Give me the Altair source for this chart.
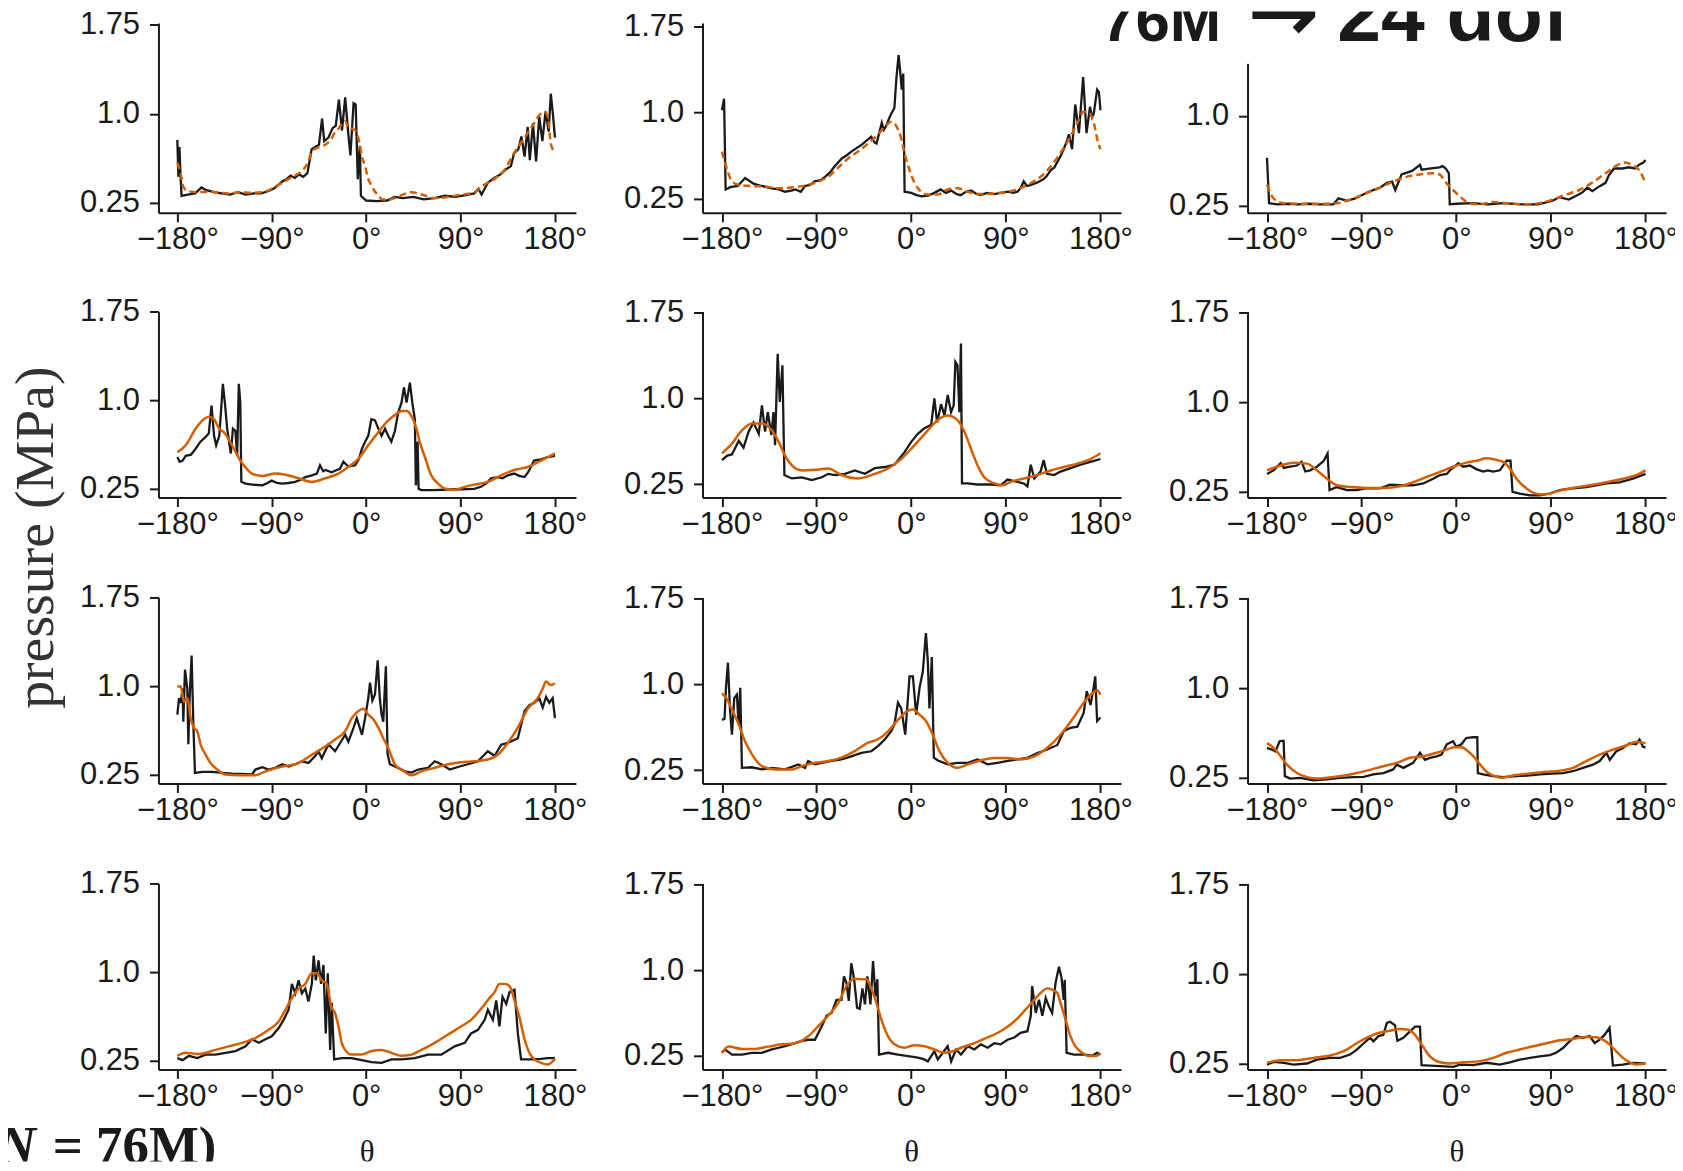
import altair as alt
import pandas as pd

# ---------------- data: (theta in degrees, pressure in MPa) ----------------
# row 1 (panels a-c); black = reference, orange = reduced model
r1c1_ref = [(-180,0.78),(-179,0.47),(-178,0.72),(-177,0.49),(-176,0.31),(-170,0.32),(-163,0.33),(-157,0.38),(-153,0.36),(-145,0.34),(-138,0.33),(-130,0.32),(-122,0.34),(-115,0.32),(-107,0.33),(-100,0.33),(-93,0.35),(-88,0.37),(-84,0.40),(-80,0.43),(-76,0.45),(-72,0.48),(-68,0.46),(-64,0.49),(-60,0.47),(-56,0.50),(-52,0.70),(-49,0.72),(-45,0.74),(-42,0.96),(-40,0.77),(-36,0.80),(-32,0.88),(-29,0.90),(-26,1.12),(-23,0.86),(-20,1.14),(-17,0.83),(-15,0.65),(-12,1.09),(-10,1.08),(-8,0.45),(-6,0.73),(-5,0.31),(0,0.27),(10,0.265),(20,0.27),(27,0.30),(35,0.29),(45,0.30),(55,0.28),(65,0.29),(75,0.31),(85,0.30),(95,0.315),(103,0.33),(107,0.37),(110,0.32),(116,0.42),(122,0.46),(128,0.49),(133,0.53),(138,0.56),(141,0.67),(145,0.70),(148,0.81),(151,0.64),(154,0.89),(156,0.61),(159,0.92),(162,0.60),(165,0.98),(168,0.77),(171,1.02),(174,0.85),(176,1.17),(178,1.00),(180,0.80)]
r1c1_rom = [(-180,0.59),(-177,0.50),(-174,0.38),(-170,0.35),(-162,0.34),(-150,0.345),(-140,0.335),(-130,0.33),(-120,0.34),(-110,0.335),(-100,0.34),(-92,0.36),(-86,0.39),(-80,0.42),(-74,0.45),(-68,0.48),(-61,0.52),(-55,0.60),(-52,0.68),(-45,0.72),(-39,0.74),(-34,0.78),(-30,0.84),(-26,0.88),(-23,0.92),(-20,0.94),(-17,0.88),(-12,0.87),(-9,0.84),(-6,0.74),(-4,0.64),(-1,0.56),(2,0.45),(5,0.40),(8,0.35),(12,0.31),(15,0.28),(21,0.275),(27,0.29),(35,0.32),(43,0.34),(53,0.32),(65,0.29),(78,0.30),(91,0.32),(103,0.335),(110,0.39),(116,0.42),(122,0.45),(132,0.53),(141,0.67),(151,0.80),(160,0.92),(165,0.99),(170,1.02),(173,0.98),(176,0.75),(178,0.70),(180,0.68)]
r1c2_ref = [(-180,1.02),(-178,1.12),(-176.5,0.33),(-172,0.35),(-165,0.36),(-158,0.43),(-150,0.38),(-142,0.36),(-133,0.34),(-126,0.33),(-120,0.31),(-114,0.32),(-110,0.33),(-105,0.31),(-101,0.36),(-96,0.37),(-92,0.40),(-86,0.41),(-82,0.44),(-77,0.48),(-73,0.53),(-66,0.60),(-61,0.63),(-57,0.66),(-52,0.69),(-47,0.72),(-42,0.76),(-38,0.79),(-35,0.74),(-33,0.73),(-28,0.91),(-26,0.85),(-24,0.88),(-21,0.95),(-19,0.99),(-16,1.04),(-14,1.31),(-12,1.50),(-10,1.31),(-9,1.20),(-7.6,1.34),(-6.3,0.31),(0,0.30),(5,0.28),(10,0.27),(16,0.275),(22,0.30),(28,0.33),(33,0.30),(38,0.32),(43,0.29),(47,0.28),(52,0.31),(57,0.32),(62,0.29),(66,0.28),(72,0.30),(79,0.29),(85,0.30),(92,0.31),(97,0.30),(101,0.31),(104,0.34),(107,0.40),(110,0.36),(114,0.37),(120,0.39),(126,0.42),(129,0.45),(133,0.50),(136,0.52),(139,0.57),(142,0.62),(145,0.68),(148,0.75),(150,0.81),(153,0.68),(156,1.07),(159.5,0.82),(163.5,1.31),(166.7,0.82),(170,1.05),(172,0.96),(173.6,0.99),(176.8,1.20),(178.5,1.18),(180,1.02)]
r1c2_rom = [(-180,0.66),(-175,0.50),(-170.5,0.40),(-164,0.37),(-152,0.36),(-139,0.355),(-126,0.34),(-110,0.35),(-98,0.37),(-88,0.40),(-79,0.44),(-69.5,0.52),(-60,0.60),(-50.5,0.66),(-41,0.73),(-31.6,0.81),(-23.7,0.89),(-19,0.92),(-14,0.88),(-10,0.79),(-5.7,0.62),(-1.6,0.50),(3,0.39),(9.5,0.31),(15.8,0.285),(25,0.285),(34.7,0.33),(44,0.34),(53.6,0.31),(66,0.29),(79,0.295),(91.6,0.31),(101,0.33),(110.5,0.37),(123,0.44),(132.6,0.53),(142,0.65),(151.5,0.79),(158,0.91),(164,1.01),(169,1.0),(173.6,0.91),(178,0.73),(180,0.68)]
r1c3_ref = [(-180,0.65),(-178,0.27),(-170,0.26),(-160,0.265),(-150,0.26),(-140,0.265),(-130,0.26),(-117,0.26),(-112,0.31),(-104,0.29),(-96,0.31),(-91.6,0.33),(-82,0.37),(-72.5,0.40),(-66,0.44),(-61,0.45),(-58,0.38),(-52,0.51),(-42,0.54),(-34.5,0.59),(-33,0.55),(-24,0.56),(-16,0.57),(-13,0.58),(-10,0.56),(-7,0.52),(-6.2,0.26),(0,0.265),(15,0.27),(30,0.26),(45,0.27),(62,0.26),(78,0.26),(91.6,0.29),(98,0.32),(107,0.30),(113.7,0.33),(120,0.36),(124.7,0.40),(129.4,0.37),(136,0.41),(142,0.44),(145,0.50),(150,0.56),(158,0.56),(164,0.57),(170,0.56),(173.6,0.59),(178,0.61),(180,0.63)]
r1c3_rom = [(-180,0.425),(-173.7,0.31),(-164,0.27),(-142,0.265),(-117,0.265),(-101,0.30),(-85,0.355),(-72.6,0.40),(-60,0.45),(-47.4,0.49),(-34.7,0.51),(-22,0.52),(-15.8,0.51),(-9.5,0.44),(-3,0.38),(3,0.33),(12.6,0.27),(22,0.26),(34.7,0.28),(47,0.27),(66,0.26),(79,0.27),(91.6,0.30),(104,0.34),(117,0.38),(129,0.44),(142,0.52),(151.5,0.58),(161,0.61),(167,0.59),(173.6,0.55),(180,0.44)]

# row 2
r2c1_ref = [(-180,0.52),(-177.8,0.48),(-175,0.49),(-172,0.53),(-167,0.54),(-162.6,0.59),(-158,0.65),(-153,0.69),(-150,0.72),(-147.4,0.955),(-145,0.70),(-143,0.62),(-140,0.70),(-138,0.955),(-136.6,1.14),(-134.7,0.98),(-132.5,0.76),(-129,0.55),(-127,0.76),(-124.6,0.74),(-123,0.53),(-121.4,1.14),(-120,0.98),(-119,0.31),(-115,0.295),(-107,0.285),(-99,0.28),(-94,0.30),(-90,0.32),(-85,0.30),(-80,0.295),(-74,0.30),(-67.6,0.31),(-62,0.33),(-58,0.35),(-51.8,0.365),(-47,0.38),(-44,0.45),(-41,0.40),(-39,0.41),(-32.8,0.39),(-28,0.41),(-25,0.42),(-21.7,0.48),(-17,0.44),(-10.6,0.45),(-7,0.50),(-4,0.59),(-1,0.65),(2,0.70),(5,0.84),(8.4,0.83),(11.6,0.76),(14.7,0.70),(18,0.76),(21,0.70),(24,0.65),(27.4,0.74),(30.6,0.90),(33.7,0.98),(36,1.11),(38.5,0.98),(41.7,1.15),(44,0.98),(46.4,0.84),(47.4,0.28),(49,0.65),(50,0.25),(52.7,0.24),(65,0.24),(78,0.245),(90.7,0.247),(103,0.25),(110,0.27),(115,0.30),(119,0.34),(125.6,0.35),(130,0.34),(135,0.365),(141,0.38),(146,0.36),(151,0.35),(155,0.40),(160,0.49),(166.7,0.50),(173,0.52),(180,0.53)]
r2c1_rom = [(-180,0.56),(-172,0.62),(-162.6,0.76),(-154.7,0.84),(-150,0.86),(-145,0.84),(-140,0.76),(-135.7,0.73),(-131,0.67),(-126,0.59),(-121,0.505),(-116.7,0.45),(-108.8,0.38),(-99,0.36),(-86.6,0.38),(-77,0.37),(-64.4,0.34),(-51.8,0.31),(-39,0.34),(-26.4,0.38),(-17,0.435),(-7.4,0.505),(2,0.62),(11.6,0.73),(21,0.83),(29,0.885),(33.7,0.91),(38.5,0.91),(43,0.87),(47.9,0.76),(51,0.65),(56,0.52),(62,0.365),(68.6,0.295),(75,0.253),(84,0.24),(94,0.267),(103,0.286),(116,0.31),(128.7,0.365),(141,0.41),(154,0.435),(166.7,0.49),(180,0.55)]
r2c2_ref = [(-180,0.46),(-175,0.50),(-170.5,0.51),(-164,0.63),(-159.5,0.57),(-154.7,0.71),(-150,0.79),(-145,0.69),(-142,0.94),(-139,0.71),(-136.4,0.88),(-133,0.68),(-131,0.88),(-129.5,0.59),(-127,1.39),(-125,0.97),(-122.5,1.29),(-120.6,0.33),(-113.7,0.30),(-104,0.31),(-94.7,0.285),(-85,0.31),(-79,0.34),(-72.6,0.33),(-63,0.34),(-53.7,0.37),(-44,0.34),(-34.7,0.39),(-25,0.40),(-16,0.42),(-6.3,0.53),(0,0.62),(6.3,0.69),(12.6,0.74),(19,0.77),(22,1.0),(24.6,0.79),(28.4,0.95),(31.6,0.85),(34.7,1.03),(37.9,0.88),(40.4,0.94),(42,1.32),(44,1.29),(45.8,0.88),(47.3,1.48),(48.3,0.256),(53.6,0.256),(63,0.247),(75.8,0.247),(85,0.24),(91.6,0.29),(101,0.27),(107,0.256),(110.5,0.23),(113.7,0.42),(117,0.30),(123,0.36),(126,0.46),(129,0.34),(135.8,0.33),(142,0.36),(151.5,0.39),(161,0.42),(170.5,0.445),(180,0.47)]
r2c2_rom = [(-180,0.52),(-170.5,0.605),(-161,0.72),(-151.6,0.78),(-142,0.78),(-132.6,0.72),(-126,0.62),(-120,0.50),(-113.7,0.416),(-104,0.37),(-91.6,0.375),(-79,0.387),(-66.3,0.33),(-50.5,0.30),(-34.7,0.34),(-22,0.387),(-9.5,0.47),(3,0.59),(15.8,0.72),(25,0.81),(34.7,0.85),(44,0.81),(50.5,0.71),(56.8,0.56),(63,0.416),(69.5,0.31),(79,0.256),(87,0.24),(94.7,0.27),(107,0.30),(120,0.33),(132.6,0.37),(145,0.40),(158,0.43),(170.5,0.47),(180,0.52)]
r2c3_ref = [(-180,0.40),(-173.7,0.43),(-167,0.49),(-164,0.45),(-158,0.46),(-151.5,0.47),(-147,0.50),(-143.6,0.42),(-139,0.43),(-132.5,0.46),(-126,0.51),(-122.4,0.57),(-120.5,0.264),(-113.6,0.29),(-104,0.264),(-94.6,0.264),(-85,0.28),(-72.4,0.28),(-63,0.31),(-53.5,0.305),(-41,0.305),(-31.3,0.32),(-22,0.36),(-15.5,0.39),(-9,0.40),(-6,0.43),(2,0.49),(6.6,0.46),(13,0.47),(19,0.44),(25.6,0.42),(30,0.43),(35,0.42),(41.4,0.43),(47.8,0.51),(51.6,0.51),(53.5,0.25),(60.4,0.236),(70,0.22),(79.4,0.22),(89,0.236),(98.4,0.264),(111,0.28),(123.7,0.29),(133,0.305),(142.7,0.32),(155.3,0.33),(168,0.36),(180,0.40)]
r2c3_rom = [(-180,0.43),(-167,0.47),(-154.7,0.494),(-142,0.486),(-132.5,0.43),(-123,0.36),(-113.6,0.305),(-101,0.29),(-85,0.283),(-69.3,0.283),(-53.5,0.297),(-41,0.33),(-28,0.375),(-15.5,0.417),(-2.8,0.46),(9.8,0.494),(19.3,0.51),(28.8,0.53),(36.7,0.52),(44.6,0.50),(51,0.444),(57.3,0.36),(66.8,0.278),(73,0.244),(81,0.228),(89,0.236),(98.4,0.26),(111,0.283),(127,0.305),(142.7,0.33),(158.5,0.36),(171,0.39),(180,0.43)]

# row 3
r3c1_ref = [(-180,0.76),(-178.4,0.90),(-176.8,0.86),(-175,0.98),(-174.3,0.70),(-172.7,1.14),(-170.5,0.98),(-169.5,0.51),(-168.3,0.90),(-166.4,1.26),(-164.8,0.70),(-163.2,0.267),(-156,0.275),(-146.8,0.275),(-137,0.267),(-127.7,0.26),(-118,0.258),(-108.8,0.253),(-105.6,0.295),(-99,0.315),(-93,0.295),(-86.6,0.31),(-80,0.34),(-74,0.32),(-67.6,0.34),(-61,0.365),(-55,0.35),(-48.6,0.41),(-45.4,0.45),(-42.3,0.39),(-36,0.51),(-29.6,0.45),(-24.8,0.52),(-20,0.59),(-17,0.53),(-12,0.65),(-9,0.73),(-4,0.59),(-1,0.73),(2,0.90),(3.7,1.03),(5.9,0.88),(8.4,0.93),(11,1.22),(13,0.90),(14.7,0.76),(16.3,0.70),(18.8,1.17),(20.4,0.43),(22.6,0.34),(29,0.315),(37,0.28),(43.2,0.27),(49.6,0.295),(59,0.31),(65.4,0.365),(71.7,0.34),(79.7,0.295),(90.7,0.325),(97,0.34),(106.6,0.365),(116,0.45),(122.4,0.41),(128.7,0.505),(135,0.52),(144.6,0.56),(151,0.79),(155.6,0.84),(160.4,0.86),(165,0.90),(168.3,0.82),(171.5,0.91),(174.6,0.86),(177.8,0.90),(180,0.73)]
r3c1_rom = [(-180,0.997),(-176.8,1.0),(-173.7,0.87),(-170.5,0.90),(-167.3,0.73),(-164.2,0.65),(-161,0.62),(-157.8,0.505),(-153,0.42),(-148.3,0.35),(-142,0.295),(-134,0.253),(-121.4,0.247),(-105.6,0.247),(-96,0.28),(-80,0.32),(-64.4,0.35),(-51.8,0.42),(-39,0.49),(-29.6,0.55),(-20,0.62),(-13.7,0.73),(-7.4,0.79),(-2.7,0.81),(2,0.76),(6.8,0.72),(11.6,0.65),(16.3,0.56),(21,0.48),(27.3,0.34),(33.7,0.295),(43.2,0.247),(52.7,0.28),(65.4,0.31),(78,0.34),(90.7,0.357),(103,0.365),(116,0.38),(125.6,0.42),(135,0.52),(144.6,0.65),(154,0.81),(163.6,0.90),(168.3,0.98),(171.5,1.04),(176.2,1.01),(180,1.025)]
r3c2_ref = [(-180,0.69),(-177.5,0.70),(-176.2,0.97),(-174.3,1.19),(-172.4,0.79),(-170.5,0.56),(-168.3,0.88),(-165.8,0.91),(-164.2,0.65),(-162.6,0.97),(-161,0.27),(-151.6,0.275),(-142,0.256),(-132.6,0.27),(-120,0.256),(-107.4,0.30),(-101,0.27),(-98,0.33),(-91.6,0.30),(-85,0.314),(-75.8,0.33),(-66.3,0.343),(-57,0.37),(-47.4,0.40),(-38,0.415),(-31.6,0.46),(-25,0.52),(-19,0.59),(-16,0.65),(-12.6,0.84),(-9.5,0.79),(-5.7,0.56),(-1.6,1.07),(1.6,1.07),(4.7,0.735),(7.9,0.97),(11,1.11),(14,1.45),(15.8,1.20),(17.3,0.79),(19.6,1.24),(21.5,0.36),(25.3,0.334),(34.7,0.30),(44,0.314),(53.7,0.314),(63,0.343),(72.6,0.30),(82,0.314),(91.6,0.33),(101,0.343),(110.5,0.357),(120,0.40),(129.4,0.43),(139,0.47),(145,0.59),(151.5,0.62),(158,0.63),(164,0.75),(167,0.94),(170.5,0.82),(173.6,0.98),(175,1.07),(176.8,0.68),(180,0.71)]
r3c2_rom = [(-180,0.92),(-175,0.87),(-170.5,0.78),(-164,0.65),(-158,0.50),(-151.6,0.39),(-142,0.285),(-129.5,0.256),(-113.7,0.256),(-104,0.285),(-91.6,0.314),(-79,0.33),(-66.3,0.36),(-53.7,0.416),(-41,0.49),(-31.6,0.52),(-22,0.59),(-12.6,0.69),(-4.7,0.76),(1.6,0.78),(7.9,0.735),(14,0.68),(20.5,0.56),(26.8,0.416),(34.7,0.314),(44,0.27),(53.7,0.30),(66,0.334),(79,0.357),(91.6,0.357),(104,0.343),(117,0.37),(129.4,0.445),(142,0.56),(154.5,0.71),(164,0.84),(172,0.92),(176.8,0.95),(180,0.91)]
r3c3_ref = [(-180,0.50),(-175.3,0.486),(-172,0.47),(-168,0.556),(-164.2,0.56),(-163,0.264),(-158,0.244),(-148.4,0.25),(-135.7,0.228),(-123,0.236),(-110.4,0.25),(-97.7,0.256),(-88,0.258),(-79,0.278),(-69.3,0.29),(-60,0.32),(-56.6,0.36),(-50.3,0.333),(-41,0.375),(-34.5,0.46),(-29.7,0.40),(-25,0.417),(-18.7,0.43),(-14,0.444),(-9,0.53),(-3,0.556),(0,0.51),(4.8,0.53),(9.5,0.583),(16,0.589),(20,0.589),(20.5,0.29),(25.6,0.278),(35,0.264),(44.6,0.256),(57.3,0.264),(70,0.27),(79.4,0.278),(92,0.286),(101.5,0.29),(111,0.305),(120.5,0.333),(130,0.36),(136.4,0.39),(142.7,0.46),(146,0.40),(152,0.47),(158.5,0.50),(165,0.54),(171,0.53),(174.3,0.57),(177.5,0.51),(180,0.505)]
r3c3_rom = [(-180,0.54),(-173.7,0.50),(-167,0.43),(-161,0.36),(-151.5,0.29),(-142,0.256),(-132.5,0.244),(-116.7,0.256),(-101,0.278),(-85,0.31),(-69.3,0.347),(-56.6,0.375),(-44,0.417),(-31.3,0.43),(-18.7,0.46),(-9,0.486),(-1.3,0.505),(5,0.505),(11.4,0.47),(17.7,0.417),(24,0.347),(30.4,0.29),(36.7,0.264),(43,0.25),(54,0.27),(70,0.286),(85.7,0.30),(98.4,0.31),(111,0.333),(123.7,0.39),(136.4,0.444),(149,0.486),(161.7,0.52),(171,0.55),(180,0.54)]

# row 4
r4c1_ref = [(-180,0.27),(-175,0.253),(-169,0.29),(-161,0.27),(-153,0.30),(-143.6,0.30),(-134,0.315),(-124.6,0.33),(-115,0.37),(-108.8,0.43),(-102.4,0.40),(-96,0.43),(-90,0.455),(-83.4,0.525),(-78.7,0.595),(-74,0.68),(-70.8,0.90),(-67.6,0.82),(-64.4,0.93),(-61.3,0.82),(-58,0.86),(-55,0.75),(-51.8,0.90),(-50,1.14),(-48,0.93),(-45.4,1.10),(-43,0.90),(-40.7,1.06),(-38.5,0.48),(-36.6,0.99),(-34.3,0.34),(-32.8,0.74),(-30.5,0.26),(-23.3,0.27),(-13.8,0.27),(-4.3,0.253),(5.2,0.236),(14.7,0.23),(24.2,0.26),(33.7,0.26),(46.4,0.27),(59,0.30),(71.7,0.30),(84.4,0.37),(94,0.40),(100,0.48),(106.6,0.51),(113,0.595),(116,0.68),(120.8,0.595),(124,0.76),(127,0.54),(130,0.79),(133.5,0.73),(136.7,0.83),(141.4,0.85),(144.6,0.48),(147.7,0.26),(157,0.26),(166.7,0.264),(173,0.27),(180,0.27)]
r4c1_rom = [(-180,0.29),(-172,0.315),(-159.4,0.306),(-143.6,0.34),(-131,0.37),(-118.3,0.40),(-105.6,0.44),(-93,0.51),(-83.4,0.58),(-77,0.68),(-70.8,0.78),(-64.4,0.86),(-58,0.90),(-51.8,0.99),(-47,0.99),(-42.3,0.93),(-37.5,0.90),(-33.4,0.71),(-29.6,0.65),(-26.4,0.54),(-23.3,0.40),(-20,0.34),(-13.8,0.30),(-4.3,0.30),(5.2,0.33),(14.7,0.34),(24.2,0.315),(33.7,0.29),(43.2,0.30),(52.7,0.34),(65.4,0.40),(78,0.47),(90.7,0.54),(100,0.595),(109.7,0.69),(117.6,0.78),(122.4,0.83),(127,0.90),(132,0.90),(136.7,0.88),(141.4,0.76),(146,0.62),(151,0.43),(155.6,0.315),(160.4,0.26),(166.7,0.23),(173,0.216),(180,0.264)]
r4c2_ref = [(-180,0.276),(-177,0.305),(-170.5,0.26),(-161,0.26),(-151.6,0.276),(-142,0.276),(-132.6,0.305),(-126,0.32),(-120,0.334),(-110.5,0.36),(-104,0.38),(-98,0.39),(-91.6,0.39),(-85,0.51),(-80.5,0.60),(-75.8,0.625),(-71,0.74),(-66.3,0.74),(-64,0.945),(-61.6,0.89),(-59.4,0.73),(-57,1.06),(-54.3,0.92),(-51.5,0.67),(-49,0.66),(-46.4,0.84),(-44,0.70),(-41.7,0.945),(-38.8,0.70),(-36.3,1.08),(-34,0.77),(-32.2,0.92),(-30.6,0.26),(-22,0.276),(-12.6,0.26),(-3,0.247),(6.3,0.233),(12.6,0.218),(15.8,0.20),(22,0.29),(25.3,0.218),(30,0.276),(34.7,0.334),(38,0.20),(42.6,0.305),(47.3,0.26),(53.7,0.334),(60,0.305),(66.3,0.35),(72.6,0.32),(79,0.36),(85,0.35),(91.6,0.39),(98,0.41),(104,0.45),(110.5,0.465),(113.7,0.60),(115,0.86),(118.4,0.625),(121.5,0.74),(124.7,0.60),(127.9,0.756),(131,0.68),(134,0.625),(137.3,0.89),(140.5,1.03),(143,0.93),(145,0.74),(146,0.915),(147.8,0.276),(154.7,0.26),(164,0.26),(172,0.25),(176.8,0.276),(180,0.26)]
r4c2_rom = [(-180,0.276),(-173.7,0.33),(-161,0.31),(-148.4,0.31),(-136,0.33),(-123,0.35),(-110.5,0.36),(-98,0.42),(-88.4,0.51),(-79,0.60),(-69.5,0.71),(-61.6,0.86),(-53.7,0.925),(-47.4,0.92),(-42.6,0.92),(-38,0.84),(-33,0.71),(-28.4,0.567),(-22,0.42),(-16,0.35),(-6.3,0.32),(3,0.343),(12.6,0.334),(22,0.305),(31.6,0.276),(38,0.285),(47.3,0.32),(60,0.36),(72.6,0.41),(85,0.465),(98,0.55),(107.4,0.64),(117,0.74),(123,0.80),(129.4,0.84),(134,0.83),(139,0.80),(142,0.71),(146.8,0.567),(151.5,0.42),(156,0.334),(162.6,0.276),(169,0.247),(175,0.247),(180,0.27)]
r4c3_ref = [(-180,0.24),(-173.7,0.264),(-164,0.256),(-154.7,0.24),(-142,0.25),(-132.5,0.283),(-120,0.297),(-110.4,0.297),(-101,0.325),(-94.6,0.367),(-88,0.42),(-82,0.465),(-78.8,0.436),(-74,0.48),(-69.3,0.49),(-66,0.59),(-63,0.60),(-58.2,0.57),(-56,0.44),(-50.3,0.465),(-44,0.52),(-39.2,0.56),(-34.5,0.56),(-33,0.236),(-25,0.233),(-15.5,0.228),(-2.8,0.222),(3.5,0.24),(16,0.236),(28.8,0.256),(41.4,0.24),(51,0.26),(60.4,0.283),(70,0.297),(79.4,0.31),(89,0.32),(95,0.34),(101.5,0.38),(107.9,0.437),(114.2,0.48),(120.5,0.465),(126.9,0.48),(131.6,0.42),(136.4,0.45),(141,0.49),(145.8,0.55),(149,0.233),(158.5,0.24),(168,0.256),(180,0.25)]
r4c3_rom = [(-180,0.256),(-167.3,0.278),(-151.5,0.278),(-135.7,0.297),(-120,0.317),(-107.2,0.353),(-94.6,0.42),(-82,0.48),(-72.4,0.51),(-63,0.525),(-53.5,0.54),(-45.5,0.534),(-39.2,0.49),(-33,0.41),(-25,0.31),(-15.5,0.26),(-6,0.25),(6.6,0.26),(22.5,0.27),(35,0.297),(47.8,0.34),(60.4,0.367),(73,0.395),(85.7,0.42),(98.4,0.445),(111,0.456),(123.7,0.473),(133,0.47),(139.5,0.45),(145.8,0.41),(152,0.353),(158.5,0.297),(165,0.26),(171,0.242),(180,0.25)]

REF = [[r1c1_ref, r1c2_ref, r1c3_ref], [r2c1_ref, r2c2_ref, r2c3_ref],
       [r3c1_ref, r3c2_ref, r3c3_ref], [r4c1_ref, r4c2_ref, r4c3_ref]]
ROM = [[r1c1_rom, r1c2_rom, r1c3_rom], [r2c1_rom, r2c2_rom, r2c3_rom],
       [r3c1_rom, r3c2_rom, r3c3_rom], [r4c1_rom, r4c2_rom, r4c3_rom]]

x_ticks = [-180, -90, 0, 90, 180]
y_ticks = [0.25, 1.0, 1.75]
title_parts = ["76M", "\u2192", "24 dof"]
y_title = "pressure (MPa)"
x_title = "\u03b8"
note_parts = ["(N", "= 76M)"]

# ---------------- layout (pixels) ----------------
CELL_W = [697, 547, 420]
CELL_H = [292, 287, 287, 288]
X_RANGE = [[151, 570], [0, 420], [0, 420]]
X_DOM = [[-198, 200], [-198.5, 199.5], [-198.5, 199.5]]
Y_OFF = [-151, 0, 0]
Y_RANGE = [[[202, 11.5], [202, 11.5], [202, 52]],
           [[195.7, 9]] * 3, [[195.7, 9]] * 3, [[195.7, 9]] * 3]
Y_DOM = [[[0.166, 1.766], [0.126, 1.78], [0.189, 1.439]],
         [[0.177, 1.752], [0.133, 1.761], [0.2025, 1.758]],
         [[0.177, 1.752], [0.133, 1.761], [0.2025, 1.758]],
         [[0.174, 1.752], [0.13, 1.759], [0.2, 1.761]]]

BLACK = "#1a1a1a"
ORANGE = "#d55e00"
SANS = "Liberation Sans"
SERIF = "Liberation Serif"
LABEL_SIZE = 31

def axis_common():
    return dict(grid=False, domainColor=BLACK, domainWidth=2, tickColor=BLACK,
                tickWidth=2, tickSize=9, labelFont=SANS, labelFontSize=LABEL_SIZE,
                labelColor=BLACK, labelOverlap=False, labelBound=False, labelFlush=False)

def text_layer(txt, x, y, size, font, weight="normal", style="normal", align="left",
               baseline="alphabetic", angle=0, color=BLACK, clip=False):
    return alt.Chart(pd.DataFrame({"t": [txt]})).mark_text(
        font=font, fontSize=size, fontWeight=weight, fontStyle=style, align=align,
        baseline=baseline, angle=angle, color=color, clip=clip
    ).encode(x=alt.value(x), y=alt.value(y), text="t:N")

def title_layers(dx):
    # dx = page x of this panel's left edge; the title is cut by the panel bounds
    y = 30
    return [
        text_layer(title_parts[0], 1105 - dx, y, 62, SANS, weight="bold", clip=True),
        text_layer(title_parts[1], 1252 - dx, y, 86, "DejaVu Sans", weight="bold", clip=True),
        text_layer(title_parts[2], 1342 - dx, y, 79, SANS, weight="bold", clip=True),
    ]

panels = []
for r in range(4):
    for c in range(3):
        xs = alt.Scale(domain=X_DOM[c], range=X_RANGE[c], nice=False, zero=False)
        ys = alt.Scale(domain=Y_DOM[r][c], range=Y_RANGE[r][c], nice=False, zero=False)
        x_off = -(CELL_H[r] - Y_RANGE[r][c][0])
        xax = alt.Axis(values=x_ticks, offset=x_off, labelPadding=3,
                       labelExpr="(datum.value < 0 ? '\u2212' : '') + abs(datum.value) + '\u00b0'",
                       title=None, **axis_common())
        yax = alt.Axis(values=y_ticks, offset=Y_OFF[c], labelPadding=10,
                       labelExpr="datum.value == 1 ? '1.0' : format(datum.value, '.2f')",
                       title=None, **axis_common())
        ref_df = pd.DataFrame(REF[r][c], columns=["theta", "p"])
        rom_df = pd.DataFrame(ROM[r][c], columns=["theta", "p"])
        ref_line = alt.Chart(ref_df).mark_line(color=BLACK, strokeWidth=2.3).encode(
            x=alt.X("theta:Q", scale=xs, axis=xax), y=alt.Y("p:Q", scale=ys, axis=yax))
        rom_kw = dict(color=ORANGE, strokeWidth=2.5)
        if r == 0:
            rom_kw["strokeDash"] = [7, 4]
        rom_line = alt.Chart(rom_df).mark_line(interpolate="monotone", **rom_kw).encode(
            x=alt.X("theta:Q", scale=xs, axis=xax), y=alt.Y("p:Q", scale=ys, axis=yax))
        layers = [ref_line, rom_line]
        if r == 0 and c == 1:
            layers += title_layers(705)
        if r == 0 and c == 2:
            layers += title_layers(1252)
        if r == 1 and c == 0:
            layers.append(text_layer(y_title, 28.5, 236, 56, SERIF, align="center",
                                     baseline="middle", angle=270, color="#333333"))
        if r == 3:
            mid = (X_RANGE[c][0] + X_RANGE[c][1]) / 2
            layers.append(text_layer(x_title, mid, 280, 31, SERIF, align="center",
                                     baseline="middle", clip=True))
        if r == 3 and c == 0:
            layers.append(text_layer(note_parts[0], 28, 290, 53, SERIF, weight="bold",
                                     style="italic", align="right", clip=True))
            layers.append(text_layer(note_parts[1], 45, 290, 53, SERIF, weight="bold", clip=True))
        panels.append(alt.layer(*layers).properties(width=CELL_W[c], height=CELL_H[r]))

base = alt.concat(*panels, columns=3, spacing=0, bounds="flush", align="each").properties(
    background="white"
).configure_view(stroke=None)

# the top tick label pokes a few pixels above the first row and the last tick label a few
# pixels past the right edge; trim the view so the page does not overflow the window
try:
    chart = base.properties(padding={"left": 0, "top": -1.5, "right": -3, "bottom": 0})
    chart.to_dict()
except Exception:
    chart = base.properties(padding=0)

chart.save("out.html", embed_options={"renderer": "svg", "actions": False})
